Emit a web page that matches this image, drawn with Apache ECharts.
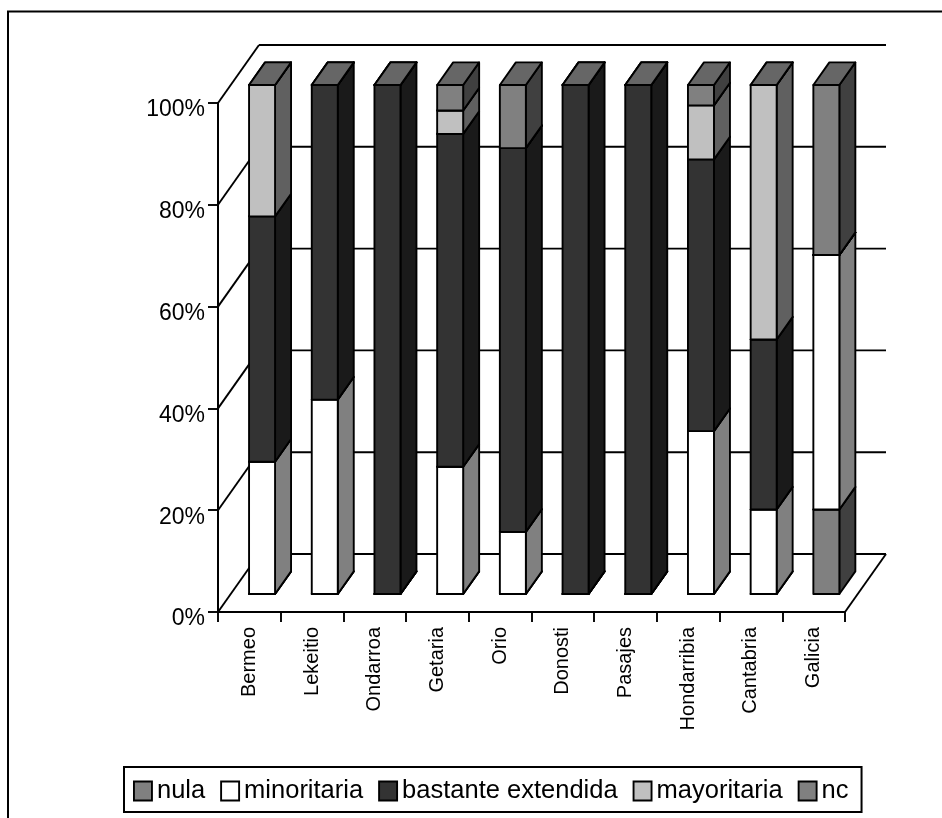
<!DOCTYPE html>
<html><head><meta charset="utf-8">
<style>html,body{margin:0;padding:0;background:#fff}#c{width:942px;height:818px}</style>
<script src="https://cdn.jsdelivr.net/npm/echarts@6/dist/echarts.min.js"></script>
</head><body><div id="c"></div>
<script>
var categories = ['Bermeo','Lekeitio','Ondarroa','Getaria','Orio','Donosti','Pasajes','Hondarribia','Cantabria','Galicia'];
var nula        = [0, 0, 0, 0, 0, 0, 0, 0, 0, 16.6];
var minoritaria = [26, 38.2, 0, 25, 12.2, 0, 0, 32, 16.6, 50];
var bastante    = [48.2, 61.8, 100, 65.4, 75.4, 100, 100, 53.4, 33.4, 0];
var mayoritaria = [25.8, 0, 0, 4.6, 0, 0, 0, 10.6, 50, 0];
var nc          = [0, 0, 0, 5, 12.4, 0, 0, 4, 0, 33.4];
var seriesNames = ['nula','minoritaria','bastante extendida','mayoritaria','nc'];
var seriesValues = [nula, minoritaria, bastante, mayoritaria, nc];
var seriesColors = ['#808080','#ffffff','#333333','#c0c0c0','#808080'];
var yTicks = [0,20,40,60,80,100];

var WALL_DX = 41, WALL_DY = 58;      // depth of the 3D wall
var BAR_OFF = 0.31, BAR_DEPTH = 0.39; // bar position within the depth
var BAR_W = 26;
var FONT = '"Liberation Sans", Arial, sans-serif';

function shade(hex, f){
  var n = parseInt(hex.slice(1),16);
  var r=(n>>16&255)*f, g=(n>>8&255)*f, b=(n&255)*f;
  return 'rgb('+Math.round(r)+','+Math.round(g)+','+Math.round(b)+')';
}
var LINE = {stroke:'#000', lineWidth:1.9, lineJoin:'round'};
function poly(points, fill){
  return {type:'polygon', shape:{points:points}, style:Object.assign({fill:fill}, LINE)};
}
function line(a,b){
  return {type:'polyline', shape:{points:[a,b]}, style:{stroke:'#000',lineWidth:1.9,fill:null}};
}
var series = [];
// back wall
series.push({
  type:'custom', silent:true, z:1, coordinateSystem:'cartesian2d',
  data: yTicks.map(function(v){return [0,v];}),
  encode:{x:0,y:1},
  renderItem:function(params, api){
    var half = api.size([1,0])[0]/2;
    var p0 = api.coord([0, api.value(1)]), pN = api.coord([categories.length-1, api.value(1)]);
    var xl = p0[0]-half, xr = pN[0]+half, y = p0[1];
    var ch = [
      line([xl,y],[xl+WALL_DX,y-WALL_DY]),
      line([xl+WALL_DX,y-WALL_DY],[xr+WALL_DX,y-WALL_DY])
    ];
    if (api.value(1) === 0) ch.push(line([xr,y],[xr+WALL_DX,y-WALL_DY]));
    return {type:'group', children:ch};
  }
});
// stacked boxes
seriesNames.forEach(function(name, si){
  var vals = seriesValues[si];
  var rows = categories.map(function(c,i){
    var base = 0;
    for (var k=0;k<si;k++) base += seriesValues[k][i];
    return [i, base, base+vals[i]];
  });
  var col = seriesColors[si];
  series.push({
    type:'custom', name:name, z:2+si, coordinateSystem:'cartesian2d',
    itemStyle:{color:col, borderColor:'#000', borderWidth:1.9},
    data:rows, encode:{x:0,y:[1,2]},
    renderItem:function(params, api){
      var lo = api.coord([api.value(0), api.value(1)]);
      var hi = api.coord([api.value(0), api.value(2)]);
      var ox = WALL_DX*BAR_OFF, oy = WALL_DY*BAR_OFF;
      var dx = WALL_DX*BAR_DEPTH, dy = WALL_DY*BAR_DEPTH;
      var x0 = lo[0]+ox-BAR_W/2, x1 = lo[0]+ox+BAR_W/2;
      var yb = lo[1]-oy, yt = hi[1]-oy;
      return {type:'group', children:[
        poly([[x1,yb],[x1+dx,yb-dy],[x1+dx,yt-dy],[x1,yt]], shade(col,0.5)),
        poly([[x0,yt],[x1,yt],[x1,yb],[x0,yb]], col),
        poly([[x0,yt],[x0+dx,yt-dy],[x1+dx,yt-dy],[x1,yt]], shade(col,0.8))
      ]};
    }
  });
});
var chart = echarts.init(document.getElementById('c'), null, {renderer:'canvas'});
chart.setOption({
  animation:false,
  backgroundColor:'#fff',
  textStyle:{fontFamily:FONT, color:'#000'},
  grid:{left:218, right:97, top:103, bottom:206, containLabel:false},
  xAxis:{type:'category', data:categories, boundaryGap:true,
    axisLine:{show:true, onZero:false, lineStyle:{color:'#000',width:2}},
    axisTick:{show:true, inside:false, length:10, alignWithLabel:false, lineStyle:{color:'#000',width:1.9}},
    axisLabel:{rotate:90, interval:0, fontSize:20, margin:15, color:'#000', fontFamily:FONT},
    splitLine:{show:false}},
  yAxis:{type:'value', min:0, max:100, interval:20,
    axisLine:{show:true, lineStyle:{color:'#000',width:2}},
    axisTick:{show:true, length:10, lineStyle:{color:'#000',width:1.9}},
    axisLabel:{formatter:'{value}%', fontSize:23, margin:13, verticalAlign:'top', lineHeight:14, color:'#000', fontFamily:FONT},
    splitLine:{show:false}},
  legend:{
    left:124, top:767, orient:'horizontal', selectedMode:false,
    data:seriesNames.map(function(n,i){return {name:n, icon:'rect', itemStyle:{color:seriesColors[i],borderColor:'#000',borderWidth:1.9}};}),
    itemWidth:18, itemHeight:19, itemGap:15,
    padding:[11,13,8,9],
    backgroundColor:'#fff', borderColor:'#000', borderWidth:2, borderRadius:0,
    textStyle:{fontSize:25.5, color:'#000', fontFamily:FONT}
  },
  graphic:[{type:'polyline', silent:true, z:100, shape:{points:[[8,818],[8,11.5],[942,11.5]]}, style:{stroke:'#000',lineWidth:2,fill:null}}],
  series:series
});
</script></body></html>
